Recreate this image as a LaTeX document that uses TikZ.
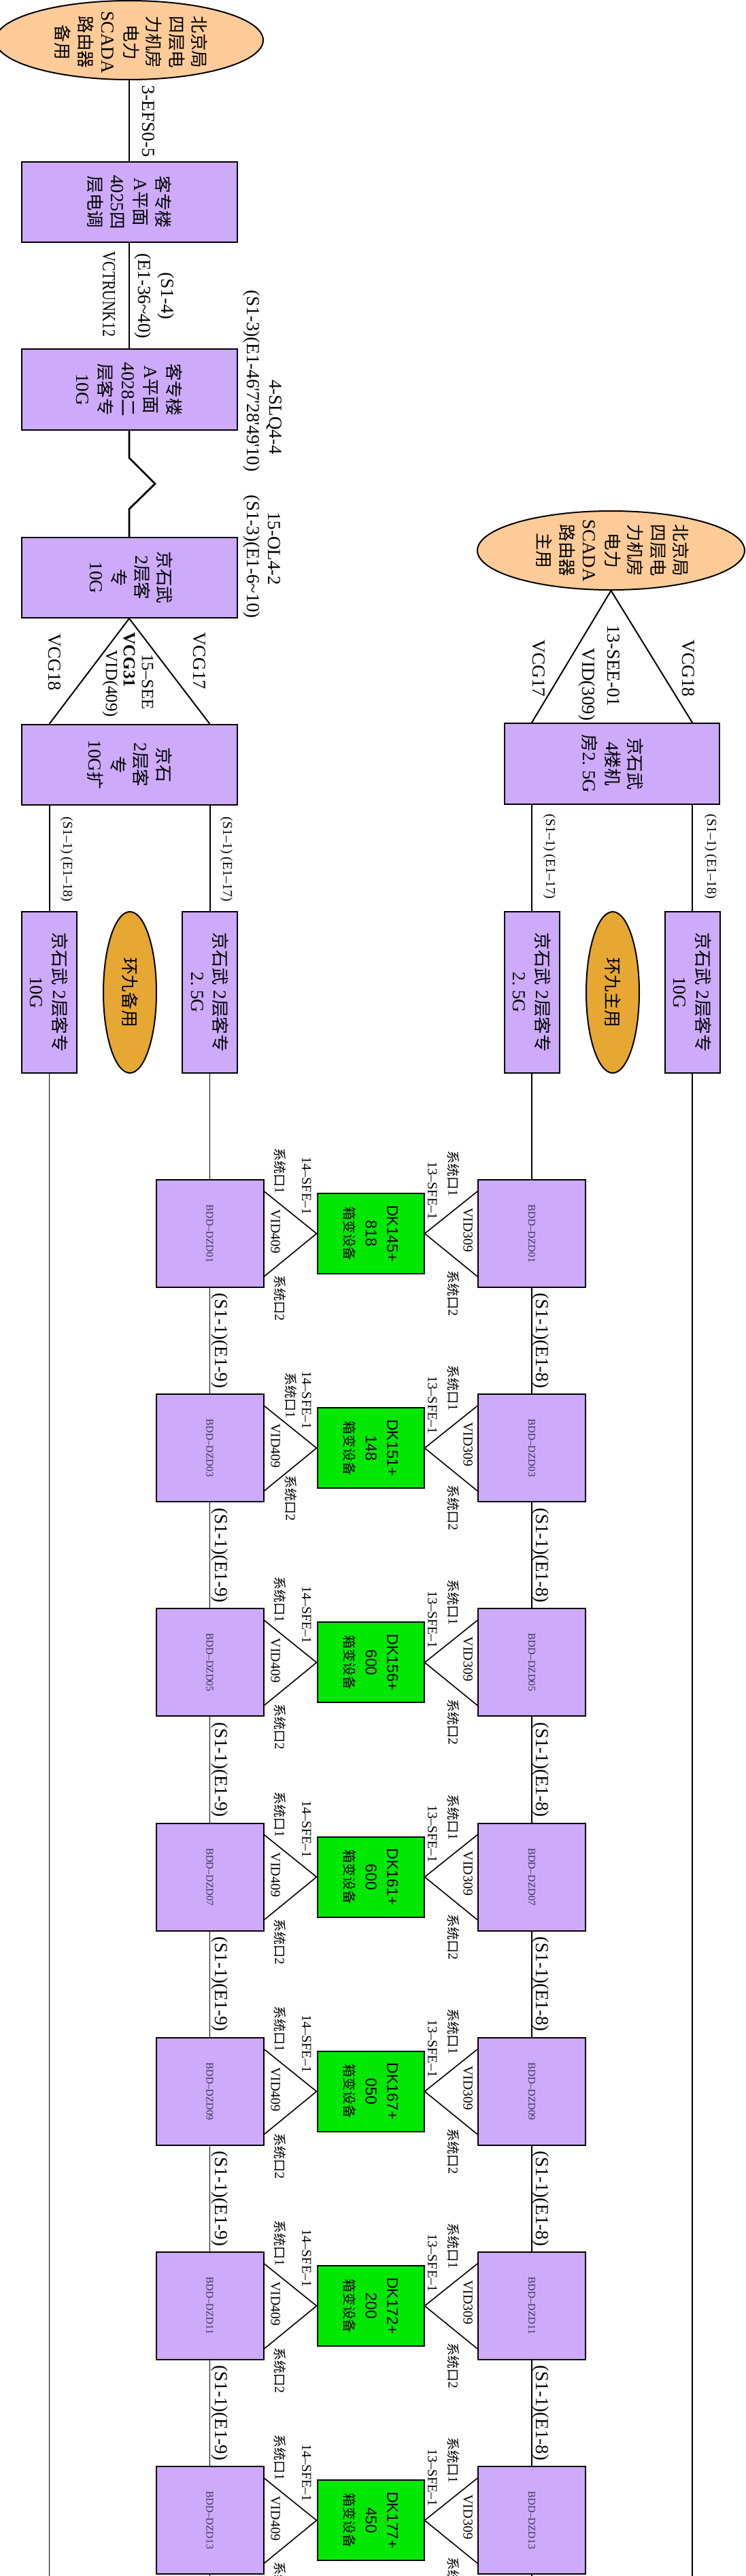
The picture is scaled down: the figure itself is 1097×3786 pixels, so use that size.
\documentclass[tikz,border=0pt]{standalone}
\usepackage{fontspec}
\setmainfont{Liberation Serif}
\newfontfamily\cjk[Scale=0.95]{Noto Sans CJK SC}
\newfontfamily\arialf{Liberation Sans}
\usetikzlibrary{shapes.geometric,calc}
\definecolor{boxpurple}{RGB}{205,170,250}
\definecolor{peach}{RGB}{255,204,153}
\definecolor{gold}{RGB}{230,168,50}
\definecolor{bgreen}{RGB}{0,232,0}
\definecolor{bddtext}{RGB}{60,50,80}
\newcommand\zh[1]{{\cjk #1}}
\newcommand\fA{\fontsize{27}{33.5}\selectfont}
\newcommand\fM{\fontsize{25}{28}\selectfont}
\newcommand\fB{\fontsize{20}{24}\selectfont}
\newcommand\fC{\fontsize{15}{18}\selectfont}
\newcommand\gfont{\arialf\fontsize{23}{31.5}\selectfont}
\begin{document}
\begin{tikzpicture}[x=1pt,y=-1pt,
 pbox/.style={draw,fill=boxpurple,line width=2pt,inner sep=0pt,rectangle},
 gbox/.style={draw,fill=bgreen,line width=2pt,inner sep=0pt,rectangle},
 oval/.style={draw,ellipse,line width=2pt,inner sep=0pt},
 rt/.style={rotate=-90,align=center,inner sep=0pt,font=\fA},
 rtm/.style={rotate=-90,align=center,inner sep=0pt,font=\fM},
 rts/.style={rotate=-90,align=center,inner sep=0pt,font=\fB},
 bddt/.style={rotate=-90,inner sep=0pt,font=\fC,text=bddtext},
 lnA/.style={line width=2.8pt},
 lnB/.style={line width=2pt},
 lnC/.style={line width=1.6pt}
]
\useasboundingbox (0,0) rectangle (1097,3786);
\clip (0,0) rectangle (1097,3786);

% ---------- upper left column ----------
\node[oval,fill=peach,minimum width=394pt,minimum height=116pt] (eL) at (190,59) {};
\node[rt] (eLt) at (193,62) {\zh{北京局}\\\zh{四层电}\\\zh{力机房}\\\zh{电力}\\SCADA\\\zh{路由器}\\\zh{备用}};

\node[pbox,minimum width=317pt,minimum height=118pt] (b1) at (190,297) {};
\node[rt] (b1t) at (b1) {\zh{客专楼}\\A\zh{平面}\\4025\zh{四}\\\zh{层电调}};

\node[pbox,minimum width=317pt,minimum height=119pt] (b2) at (190,572.5) {};
\node[rt] (b2t) at (b2) {\zh{客专楼}\\A\zh{平面}\\4028\zh{二}\\\zh{层客专}\\10G};

\node[pbox,minimum width=317pt,minimum height=118pt] (b3) at (190,849) {};
\node[rt] (b3t) at (193,849) {\zh{京石武}\\2\zh{层客}\\\zh{专}\\10G};

\node[pbox,minimum width=317pt,minimum height=118pt] (b4) at (190,1124) {};
\node[rt] (b4t) at (191,1124) {\zh{京石}\\2\zh{层客}\\\zh{专}\\10G\zh{扩}};

\node[pbox,minimum width=81pt,minimum height=237pt] (sA) at (72.5,1458.5) {};
\node[rt] (sAt) at (sA) {\zh{京石武}\hspace{8pt}2\zh{层客专}\\10G};
\node[oval,fill=gold,minimum width=78pt,minimum height=237pt] (eA) at (191,1458.5) {};
\node[rt] (eAt) at (eA) {\zh{环九备用}};
\node[pbox,minimum width=81pt,minimum height=237pt] (sB) at (308.5,1458.5) {};
\node[rt] (sBt) at (sB) {\zh{京石武}\hspace{8pt}2\zh{层客专}\\2.\ 5G};

% connectors upper left
\draw[lnA] (eL.south) -- (b1.north);
\draw[lnA] (b1.south) -- (b2.north);
\draw[lnA] (b2.south) -- ($(b2.south)+(0,40)$) -- ($(b2.south)+(38,78)$) -- ($(b2.south)+(0,115)$) -- (b3.north);
\draw[lnB] (b4.north -| sA) -- (b3.south) -- (b4.north -| sB);
\draw[lnB] (b4.south -| sA) -- (sA.north);
\draw[lnB] (b4.south -| sB) -- (sB.north);

% labels upper left
\node[rt] (l1) at (218,178) {3-EFS0-5};
\node[rt] (l2) at (227,435) {(S1-4)\\(E1-36\textasciitilde 40)};
\node[rt] (l3) at (160,432) {\scalebox{0.8}[1]{VCTRUNK12}};
\node[rt] (l4) at (403,613) {4-SLQ4-4};
\node[rt] (l5) at (370,560) {(S1-3)(E1-46\textquotesingle 7\textquotesingle 28\textquotesingle 49\textquotesingle 10)};
\node[rt] (l6) at (403,806) {15-OL4-2};
\node[rt] (l7) at (370,818) {(S1-3)(E1-6\textasciitilde 10)};
\node[rt] (l8) at (293,971) {VCG17};
\node[rt] (l9) at (80,973) {VCG18};
\node[rtm] (l10) at (217,1002) {15--SEE};
\node[rtm] (l11) at (190,970) {\textbf{VCG31}};
\node[rtm] (l12) at (162,1005) {VID(409)};
\node[rts] (l13) at (98,1263) {(S1--1) (E1--18)};
\node[rts] (l14) at (333,1263) {(S1--1) (E1--17)};

% ---------- upper right column ----------
\node[oval,fill=peach,minimum width=393pt,minimum height=116pt] (eR) at (898.5,809) {};
\node[rt] (eRt) at (901,809) {\zh{北京局}\\\zh{四层电}\\\zh{力机房}\\\zh{电力}\\SCADA\\\zh{路由器}\\\zh{主用}};
\node[pbox,minimum width=316pt,minimum height=119pt] (bR) at (900,1122.5) {};
\node[rt] (bRt) at (901,1122.5) {\zh{京石武}\\4\zh{楼机}\\\zh{房}2.\ 5G};

\node[pbox,minimum width=81pt,minimum height=237pt] (sC) at (782,1458.5) {};
\node[rt] (sCt) at (sC) {\zh{京石武}\hspace{8pt}2\zh{层客专}\\2.\ 5G};
\node[oval,fill=gold,minimum width=78pt,minimum height=237pt] (eB) at (901,1458.5) {};
\node[rt] (eBt) at (eB) {\zh{环九主用}};
\node[pbox,minimum width=81pt,minimum height=237pt] (sD) at (1018,1458.5) {};
\node[rt] (sDt) at (sD) {\zh{京石武}\hspace{8pt}2\zh{层客专}\\10G};

\draw[lnB] (bR.north -| sC) -- (eR.south) -- (bR.north -| sD);
\draw[lnB] (bR.south -| sC) -- (sC.north);
\draw[lnB] (bR.south -| sD) -- (sD.north);

\node[rt] (r1) at (792,982) {VCG17};
\node[rt] (r2) at (1012,982) {VCG18};
\node[rt] (r3) at (902,978) {13-SEE-01};
\node[rt] (r4) at (863,1006) {VID(309)};
\node[rts] (r5) at (808,1259) {(S1--1) (E1--17)};
\node[rts] (r6) at (1045,1259) {(S1--1) (E1--18)};

% ---------- lower rows ----------
\foreach \k/\n/\dk/\km/\ax/\ay/\bx/\by in {
 0/01/145/818/412/-92/412/95,
 1/03/151/148/428/-77/428/74,
 2/05/156/600/412/-92/412/95,
 3/07/161/600/412/-92/412/95,
 4/09/167/050/412/-92/412/95,
 5/11/172/200/412/-92/412/95,
 6/13/177/450/412/-92/412/95}{
 \pgfmathsetmacro\yc{1813+315.2*\k}
 \node[pbox,minimum width=158pt,minimum height=158pt] (L\k) at (308.5,\yc) {};
 \node[pbox,minimum width=158pt,minimum height=158pt] (R\k) at (782,\yc) {};
 \node[gbox,minimum width=157pt,minimum height=118pt] (G\k) at (545,\yc) {};
 \node[bddt] (LT\k) at (L\k) {BDD--DZD\n};
 \node[bddt] (RT\k) at (R\k) {BDD--DZD\n};
 \node[rotate=-90,align=center,inner sep=0pt,font=\gfont] (GT\k) at (G\k) {DK\dk+\\\km\\{\cjk\fontsize{21}{31}\selectfont 箱变设备}};
 \draw[lnC] ($(L\k.north east)+(0,18)$) -- (G\k.west) -- ($(L\k.south east)+(0,-17)$);
 \draw[lnC] ($(R\k.north west)+(0,18)$) -- (G\k.east) -- ($(R\k.south west)+(0,-17)$);
 \node[rts] (LA\k) at (\ax,\yc+\ay) {\zh{系统口}1};
 \node[rts] (LF\k) at (451,\yc-70) {14--SFE--1};
 \node[rts] (LV\k) at (405,\yc-3) {VID409};
 \node[rts] (LB\k) at (\bx,\yc+\by) {\zh{系统口}2};
 \node[rts] (RA\k) at (667,\yc-88) {\zh{系统口}1};
 \node[rts] (RF\k) at (636,\yc-63) {13--SFE--1};
 \node[rts] (RV\k) at (688,\yc-5) {VID309};
 \node[rts] (RB\k) at (667,\yc+88) {\zh{系统口}2};
}

\foreach \k in {0,...,5}{
 \pgfmathtruncatemacro\kk{\k+1}
 \pgfmathsetmacro\ym{1813+315.2*\k+157.6}
 \draw[lnC] (L\k.south) -- (L\kk.north);
 \draw[lnC] (R\k.south) -- (R\kk.north);
 \node[rt] (LS\k) at (323,\ym) {(S1-1)(E1-9)};
 \node[rt] (RS\k) at (795,\ym) {(S1-1)(E1-8)};
}

\draw[lnC] (sB.south) -- (L0.north);
\draw[lnC] (sC.south) -- (R0.north);
\coordinate (endA) at (72.5,3786);
\coordinate (endB) at (308.5,3786);
\coordinate (endC) at (782,3786);
\coordinate (endD) at (1018,3786);
\draw[lnC] (sA.south) -- (endA);
\draw[lnC] (sD.south) -- (endD);
\draw[lnC] (L6.south) -- (endB);
\draw[lnC] (R6.south) -- (endC);
\end{tikzpicture}
\end{document}
